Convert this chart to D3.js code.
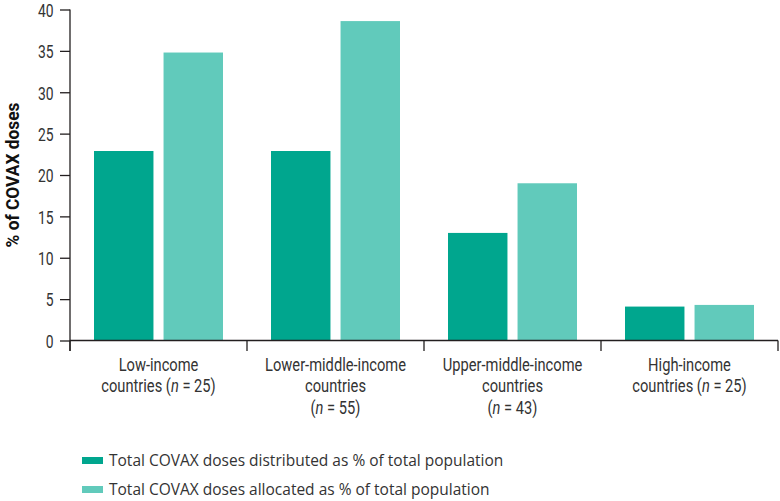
<!DOCTYPE html>
<html><head><meta charset="utf-8">
<script src="https://cdn.jsdelivr.net/npm/d3@7"></script>
<style>
body{margin:0;background:#fff;}
svg{display:block;}
</style></head>
<body><svg id="c" width="780" height="501"></svg>
<script>
const categories = [
  ["Low-income", "countries (|n| = 25)"],
  ["Lower-middle-income", "countries", "(|n| = 55)"],
  ["Upper-middle-income", "countries", "(|n| = 43)"],
  ["High-income", "countries (|n| = 25)"]
];
const distributed = [22.9, 22.9, 13.0, 4.1];
const allocated = [34.8, 38.6, 19.0, 4.3];
const seriesNames = ["Total COVAX doses distributed as % of total population",
                     "Total COVAX doses allocated as % of total population"];
const colors = ["#00a68e", "#61cabb"];
const yTicks = [0,5,10,15,20,25,30,35,40];
const yTitle = "% of COVAX doses";

const svg = d3.select("#c");
const axisColor = "#231f20";
const textColor = "#333";
const condFont = "Roboto, 'Noto Sans', sans-serif";
const mLeft = 70, mRight = 778, mTop = 9.5, mBottom = 340.5;

// horizontal squeeze factor so a sample string reaches a target width
function squeeze(sample, size, weight, target) {
  const t = svg.append("text").attr("font-family", condFont).attr("font-size", size)
    .attr("font-weight", weight).text(sample);
  const w = t.node().getComputedTextLength();
  t.remove();
  return target / w;
}
const sxCat = squeeze("Lower-middle-income", 18.5, 400, 141);
const sxTick = squeeze("40", 17.5, 400, 15.6);
const sxTitle = squeeze(yTitle, 18, 700, 145);

const x0 = d3.scaleBand().domain(d3.range(categories.length)).range([mLeft, mRight]);
const x1 = d3.scaleBand().domain([0,1]).range([24, x0.bandwidth()-24]).paddingInner(0.145);
const y = d3.scaleLinear().domain([0,40]).range([mBottom, mTop]);

const series = [distributed, allocated];
const g = svg.append("g");
series.forEach((vals, si) => {
  g.selectAll(".b"+si).data(vals).enter().append("rect")
    .attr("x", (d,i) => x0(i) + x1(si))
    .attr("width", x1.bandwidth())
    .attr("y", d => y(d))
    .attr("height", d => y(0) - y(d))
    .attr("fill", colors[si]);
});

// y axis
const yAxis = svg.append("g").attr("transform", `translate(${mLeft},0)`)
  .call(d3.axisLeft(y).tickValues(yTicks).tickSize(10).tickPadding(0).tickSizeOuter(0));
yAxis.select(".domain").remove();
yAxis.append("line").attr("x1",0).attr("x2",0).attr("y1",mTop).attr("y2",mBottom+10.5)
  .attr("stroke",axisColor).attr("stroke-width",1.3);
yAxis.selectAll(".tick line").attr("stroke",axisColor).attr("stroke-width",1.3);
yAxis.selectAll(".tick text")
  .attr("font-family", condFont).attr("font-size",17.5).attr("font-weight",400).attr("fill",textColor)
  .attr("x",0).attr("dy","0.36em")
  .attr("transform",`translate(-16.5,0.5) scale(${sxTick},1)`);

// x axis
const xAxis = svg.append("g");
xAxis.append("line").attr("x1",mLeft).attr("x2",mRight).attr("y1",mBottom).attr("y2",mBottom)
  .attr("stroke",axisColor).attr("stroke-width",1.3);
const bounds = d3.range(categories.length+1).map(i => i < categories.length ? x0(i) : x0(i-1)+x0.bandwidth());
xAxis.selectAll(".xt").data(bounds).enter().append("line")
  .attr("x1",d=>d).attr("x2",d=>d).attr("y1",mBottom).attr("y2",mBottom+10.5)
  .attr("stroke",axisColor).attr("stroke-width",1.3);

categories.forEach((lines, i) => {
  const cx = x0(i)+x0.bandwidth()/2;
  const t = svg.append("text").attr("font-family", condFont).attr("font-size",18.5).attr("font-weight",400)
    .attr("fill",textColor).attr("text-anchor","middle")
    .attr("transform",`translate(${cx},370.5) scale(${sxCat},1)`);
  lines.forEach((ln, li) => {
    const parts = ln.split("|");
    parts.forEach((p, pi) => {
      const ts = t.append("tspan").text(p);
      if (pi === 0) ts.attr("x", 0).attr("dy", li===0?0:22);
      if (pi === 1) ts.attr("font-style","italic");
    });
  });
});

// y title
svg.append("text").attr("font-family", condFont).attr("font-size",18).attr("font-weight",700)
  .attr("fill","#111").attr("text-anchor","middle")
  .attr("transform",`translate(18.5,${(mTop+mBottom)/2}) rotate(-90) scale(${sxTitle},1)`).text(yTitle);

// legend
seriesNames.forEach((name, i) => {
  const ly = 460.5 + i*29;
  svg.append("rect").attr("x",82).attr("y",ly-3.5).attr("width",21).attr("height",7).attr("fill",colors[i]);
  svg.append("text").attr("x",109).attr("y",ly).attr("dy","0.35em")
    .attr("font-family","'Open Sans','Noto Sans',sans-serif").attr("font-size",15.5).attr("fill",textColor)
    .text(name);
});
</script></body></html>
